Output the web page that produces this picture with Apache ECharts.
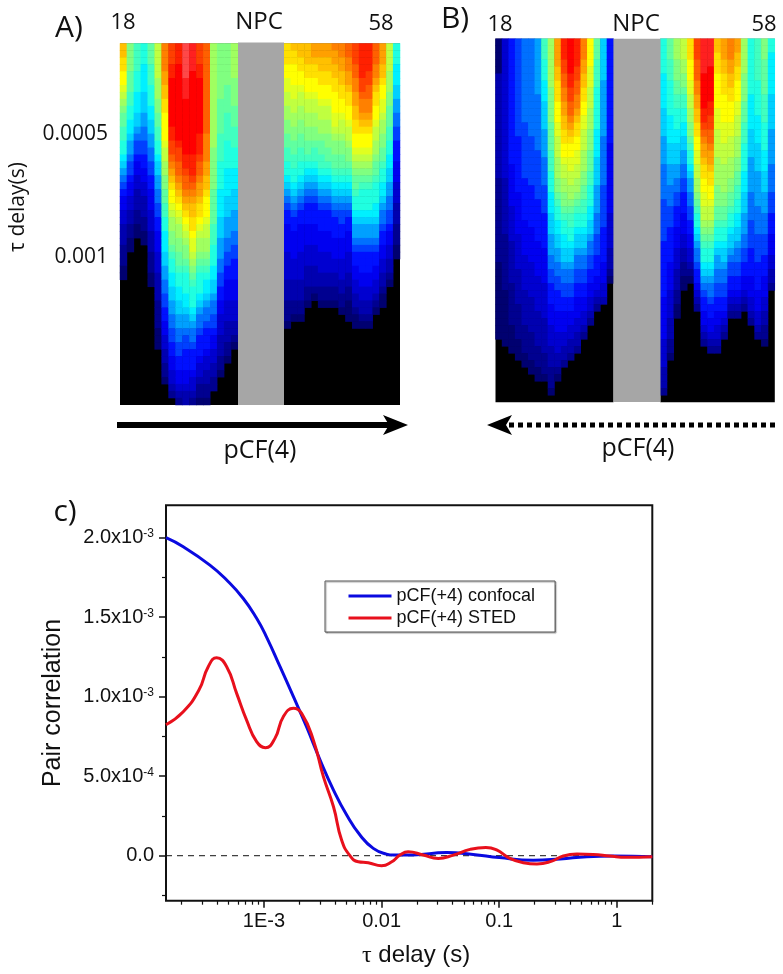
<!DOCTYPE html>
<html><head><meta charset="utf-8">
<style>html,body{margin:0;padding:0;background:#fff}#c{width:783px;height:974px}</style>
<script src="https://cdn.jsdelivr.net/npm/echarts@6/dist/echarts.min.js"></script>
</head><body><div id="c"></div>
<script>
// Heat maps: each string is one column read top to bottom. 0 = black, 1..t = colour level (base 36).
// Rows past the end of a string are black (no signal).
const panelALeft = [
"llkkjjihgfeeddccba9876554433322211","ffffeeeddccbba9987765544332211","ddddcccbbbaa9877655443332211",
"cccbbbbaaa9988776655443332211","eeedddcccbbaa9988776655544433322211","hhhhhgggffeeddccbaa9988776655544433332222111",
"nnnnmmllkkjjjjihhggffeeddccbbbaa99887766554433221","pppqqrrrrrrrqqpponmlkjjihggffedccbbaa99887766554432",
"qqqrrrrrrrrrrrqppoonmlkjihggffeedccbbaa9988776655432","tttttsssrrrrrrrrqqpoonmlkjihgffedcccbba9987766655433",
"ssssrrrrrrrrrrrrqqqponmllkkjiihgfedcccba988766654432","pppqqrrrrrrrrqqqpoonmmlkkjihggfedcccba98876665443221",
"ooooooooooooonnnnmmllkjjjihhggfedcbba988766654433221","gggggggggggggggffffffeeeeedddcccbbaa98877655443322",
"ffffffffeeeeeddddccccbbbbaaa99988776655444333221","ffffffeeeeddddccccbbbbaaa999887766555444333221",
"gggggffffeeedddcccbbbaaa99988776665554443321"];
const panelARight = [
"kkkjjiihhggffeeddccba98766555544443332221","lkkjjjiihhggffeeddccba987665555444333221","llkkjjihhggffeeddccba9876655554444333221",
"lllkkjjihhggffeedcba987666555444333221","mmlkkjjihhggffeddcba98766655544433321","mmllkkjjihhggfeeddcba98766655544433221",
"mmllkkjjihhggffeedcba98766655544433221","nmmllkkjjjiihgffeedcba9876665554433221","nnmmllkkjjihhgffeedcba987766555444332 21",
"oonnmmlkkjjihhgffedcba987665554443322111","pppoonnmmllkkjjihgfeedccba998766554433211","qqqqqpponnmlkjjihgfedcccba998766655443321",
"qqqqppoonnmlkjjihgfedcccba998766655443321","ooonnmlkkjjihhggfeedcccbba9987665544321","mmmllkjjiihggffeedccbba988766554433211",
"hhhhgggffeeeddccbbaa998877655443321","cccbbbaa99887766655544433322211"].map(s=>s.replace(/ /g,""));
const panelBLeft = [
"0000033333333333333322222222222211111111111","44444444444444444444333333332222222211111111","666666666666666666555555444443333332222221111",
"7777777777777766666666555555444443333322222111","88888888888877777777666666555554444433333222211","888888888888887777777666666555554444433333222211",
"9999999988888888777777766666655555444443333322211","dddcccbbbaaaa999988887777666665555544444333332221","gggggggfffffeeeedddcccbbbaaa99988776665554443332221",
"mmmmllkkkjjjiihhhgggffedccbbaa9988776665554443321","qqqppoonnmmllkkjjihhggffedccbbaa988776655544332","rrrrrqqppoonmlkjjiihhggfeddccbaa98877665544332",
"qqqqppoonnmlkkjjiihhggfedccbaa988776655544332","nnnmmllkkjjiihhhgggffeeddccbaa9887766554432","jjjjiiihhhgggfffeeeddcccbbaa9887766554432",
"eeeddddccccccbbbbaaaa999988877766655432","aaaaaa99999999888888877777766666555443","66666666666666655555555554444433321"];
const panelBRight = [
"cccccbbbbbaaaa9999888887777776666666655555544443332","eeedddcccccbbbbaaa9998887776666655554444333221","gggfffeeddcccbbaaa9988776665554443332211",
"hhhggffeddccbbaa99887766655544332211","kkkjjjiihhggffedccba998877665544321","pppooonnmmllkkjjiihhggfedccba9887665432",
"sssssrrrrrqqponmmlkkjjiihhgfedccba9876655432","ssssrrrrrqqppoonmmlkkjjihhgfedccba98876655432","llkkkjjjjjiiihhhhggggfffeedccba99887766554432",
"mmmllkkkjjjjiiihhhggggffeedccbaa98877665432","nnnmmllkkjjjiihhhgggffeedccbaa9877665432","mmllkkjjjiihhhgggffeeddccbbaa98877665432",
"gggggffffeeedddccccbbbaaa99988776655432","ccccccccbbbbbaaaa999998888777766665554432","ddddddcccccbbbbaaaa999998888777766665554432",
"fffeeeeeddddccccbbbaaa9998887776665554433221","ccbbbbbbaaaaa99999888877766655544332"];

// Curves: delay (s) and pair correlation
const tauConfocal = [1.47e-4,2.06e-4,3.47e-4,4.82e-4,6.67e-4,8.66e-4,1.05e-3,1.37e-3,1.78e-3,2.3e-3,3e-3,3.9e-3,5.05e-3,6.55e-3,8.5e-3,1.1e-2,1.26e-2,1.85e-2,3.57e-2,6e-2,0.1,0.195,0.329,0.556,0.93,2];
const confocal = [2.0e-3,1.943e-3,1.828e-3,1.734e-3,1.618e-3,1.493e-3,1.377e-3,1.189e-3,1.0e-3,8.11e-4,6.02e-4,4.13e-4,2.56e-4,1.3e-4,4.6e-5,1.0e-5,4e-6,5e-6,2.0e-5,8e-6,-1.2e-5,-2.8e-5,-2.0e-5,-6e-6,-2e-6,-6e-6];
const tauSted = [1.47e-4,2.06e-4,2.8e-4,3.36e-4,3.96e-4,4.82e-4,5.86e-4,7.12e-4,8.66e-4,1.03e-3,1.24e-3,1.46e-3,1.78e-3,2.09e-3,2.63e-3,3.2e-3,3.9e-3,4.57e-3,5.38e-3,6.34e-3,7.7e-3,1.0e-2,1.22e-2,1.43e-2,1.68e-2,2.26e-2,3.03e-2,4.07e-2,5.65e-2,7.7e-2,9.5e-2,0.123,0.16,0.209,0.28,0.35,0.457,0.63,0.87,1.2,2];
const sted = [8.24e-4,9.06e-4,1.042e-3,1.189e-3,1.245e-3,1.189e-3,1.021e-3,8.53e-4,7.17e-4,6.79e-4,7.38e-4,8.74e-4,9.27e-4,8.95e-4,7.27e-4,4.97e-4,3.08e-4,9.9e-5,0,-3.8e-5,-4.4e-5,-6.3e-5,-3.8e-5,4e-6,2.5e-5,4e-6,-1.7e-5,4e-6,4.0e-5,5.2e-5,3.6e-5,-1.7e-5,-4.4e-5,-5.2e-5,-3.4e-5,-2e-6,1.0e-5,8e-6,-2e-6,-1.0e-5,-6e-6];
const zeroTau = [1.47e-4,2], zeroLine = [0,0];
const xMajor = [1e-3,0.01,0.1,1], xMajorLabels = ["1E-3","0.01","0.1","1"];
const xMinor = [2e-4,3e-4,4e-4,5e-4,6e-4,7e-4,8e-4,9e-4,2e-3,3e-3,4e-3,5e-3,6e-3,7e-3,8e-3,9e-3,0.02,0.03,0.04,0.05,0.06,0.07,0.08,0.09,0.2,0.3,0.4,0.5,0.6,0.7,0.8,0.9,2];
const yMajor = [0,5e-4,1e-3,1.5e-3,2e-3];
const yMajorLabels = ["0.0","{a|5.0x10}{s|-4}","{a|1.0x10}{s|-3}","{a|1.5x10}{s|-3}","{a|2.0x10}{s|-3}"];
const yMinor = [-2.5e-4,2.5e-4,7.5e-4,1.25e-3,1.75e-3];
const seriesNames = ["pCF(+4) confocal","pCF(+4) STED"];

const jet = ['#000070','#000090','#0000b0','#0000d0','#0000f0','#0010ff','#0040ff','#0070ff','#00a0ff','#00d0ff','#00f0ff','#20ffe0','#40ffc0','#60ffa0','#80ff80','#a0ff60','#c0ff40','#e0ff20','#ffff00','#ffe000','#ffc000','#ffa000','#ff8000','#ff6000','#ff4000','#ff2000','#ff0000','#ff2020','#ff4848'];
const ROWS = 52;
const panels = [
  {cols:panelALeft,  left:120,  top:43.5, width:118,   height:361.5},
  {cols:panelARight, left:284,  top:43.5, width:116,   height:361.5},
  {cols:panelBLeft,  left:495.5,top:38.7, width:118,   height:363.6},
  {cols:panelBRight, left:660.3,top:38.7, width:114.5, height:363.6}
];
const nearest=(list,labels,v)=>{let b=0;list.forEach((t,i)=>{if(Math.abs(t-v)<Math.abs(list[b]-v))b=i;});return labels[b];};
const rowCats = Array.from({length:ROWS},(_,i)=>i);
const grids=[],xAxes=[],yAxes=[],series=[];
panels.forEach((p,i)=>{
  grids.push({left:p.left,top:p.top,width:p.width,height:p.height,show:true,backgroundColor:'#000',borderWidth:0});
  xAxes.push({type:'category',gridIndex:i,show:false,data:p.cols.map((_,k)=>k)});
  yAxes.push({type:'category',gridIndex:i,show:false,inverse:true,data:rowCats});
  const data=[];
  p.cols.forEach((s,c)=>{for(let r=0;r<s.length;r++)data.push([c,r,parseInt(s[r],36)]);});
  series.push({type:'heatmap',xAxisIndex:i,yAxisIndex:i,data,silent:true,progressive:0,animation:false,itemStyle:{borderWidth:0}});
});
const G=4;
grids.push({left:166,top:505.3,width:486.3,height:395.4,show:true,borderColor:'#111',borderWidth:2,backgroundColor:'#fff'});
const font='"Liberation Sans",Arial,sans-serif', hfont='"Open Sans","Noto Sans",sans-serif';
const xBase={type:'log',gridIndex:G,position:'bottom',min:1.47e-4,max:2,splitLine:{show:false},axisLine:{show:false,onZero:false},minorTick:{show:false}};
const yBase={type:'value',gridIndex:G,position:'left',min:-2.83e-4,max:2.204e-3,splitLine:{show:false},axisLine:{show:false,onZero:false},minorTick:{show:false}};
xAxes.push(Object.assign({},xBase,{
  axisTick:{show:true,length:7,customValues:xMajor,lineStyle:{color:'#111',width:1.5}},
  axisLabel:{show:true,customValues:xMajor,margin:11,fontFamily:font,fontSize:20,color:'#111',formatter:v=>nearest(xMajor,xMajorLabels,v)},
  name:'{t|τ} delay (s)',nameLocation:'middle',nameGap:43,
  nameTextStyle:{fontFamily:font,fontSize:24,color:'#111',padding:[0,0,0,14],rich:{t:{fontFamily:'"Liberation Serif",serif',fontSize:24,color:'#111'}}}
}));
xAxes.push(Object.assign({},xBase,{
  axisTick:{show:true,length:4,customValues:xMinor,lineStyle:{color:'#111',width:1.2}},axisLabel:{show:false}
}));
yAxes.push(Object.assign({},yBase,{
  axisTick:{show:true,length:7,customValues:yMajor,lineStyle:{color:'#111',width:1.5}},
  axisLabel:{show:true,customValues:yMajor,margin:12,fontFamily:font,fontSize:20,color:'#111',formatter:v=>nearest(yMajor,yMajorLabels,v),
    rich:{a:{fontFamily:font,fontSize:20,color:'#111'},s:{fontFamily:font,fontSize:12,color:'#111',verticalAlign:'top',padding:[0,0,8,0]}}},
  name:'Pair correlation',nameLocation:'middle',nameRotate:90,nameGap:100,nameTextStyle:{fontFamily:font,fontSize:25,color:'#111'}
}));
yAxes.push(Object.assign({},yBase,{
  axisTick:{show:true,length:4,customValues:yMinor,lineStyle:{color:'#111',width:1.2}},axisLabel:{show:false}
}));
const lineIdx={xAxisIndex:G,yAxisIndex:G};
series.push(Object.assign({type:'line',name:'zero',data:zeroTau.map((t,i)=>[t,zeroLine[i]]),symbol:'none',silent:true,lineStyle:{color:'#111',width:1,type:[6,5]}},lineIdx));
series.push(Object.assign({type:'line',name:seriesNames[0],data:tauConfocal.map((t,i)=>[t,confocal[i]]),symbol:'none',smooth:0.5,lineStyle:{color:'#0a0ae0',width:3},itemStyle:{color:'#0a0ae0'}},lineIdx));
series.push(Object.assign({type:'line',name:seriesNames[1],data:tauSted.map((t,i)=>[t,sted[i]]),symbol:'none',smooth:0.5,lineStyle:{color:'#e8101c',width:3},itemStyle:{color:'#e8101c'}},lineIdx));

const txt=(x,y,text,size,opts)=>Object.assign({type:'text',x,y,style:Object.assign({text,fontFamily:hfont,fontSize:size,fill:'#111',align:'center',verticalAlign:'middle'},(opts&&opts.style)||{})},opts&&opts.rot?{rotation:opts.rot}:{});
const graphic=[
  {type:'rect',shape:{x:238,y:42.5,width:46,height:362.5},style:{fill:'#a6a6a6'},z:5},
  {type:'rect',shape:{x:613.5,y:38.7,width:47,height:363.3},style:{fill:'#a6a6a6'},z:5},
  txt(69,28,'A)',30), txt(123,23,'18',22), txt(259,22,'NPC',24), txt(381,24,'58',22),
  txt(108,134,'0.0005',21,{style:{align:'right'}}), txt(108,257,'0.001',21,{style:{align:'right'}}),
  txt(18,207,'τ delay(s)',21,{rot:Math.PI/2}),
  txt(260,451,'pCF(4)',25),
  txt(455,19,'B)',30), txt(500,25,'18',22), txt(636,24,'NPC',24), txt(764,25,'58',22),
  txt(638,449,'pCF(4)',25),
  txt(65,512,'c)',30),
  {type:'line',shape:{x1:117,y1:425,x2:392,y2:425},style:{stroke:'#000',lineWidth:6}},
  {type:'polygon',shape:{points:[[408,425],[383,415],[389,425],[383,435]]},style:{fill:'#000'}},
  {type:'line',shape:{x1:775,y1:425,x2:505,y2:425},style:{stroke:'#000',lineWidth:5,lineDash:[5,4]}},
  {type:'polygon',shape:{points:[[487,425],[512,415],[506,425],[512,435]]},style:{fill:'#000'}}
];
const chart=echarts.init(document.getElementById('c'),null,{renderer:'canvas'});
chart.setOption({
  animation:false,backgroundColor:'#fff',
  grid:grids,xAxis:xAxes,yAxis:yAxes,series,graphic,
  visualMap:{type:'continuous',show:false,seriesIndex:[0,1,2,3],min:1,max:29,dimension:2,inRange:{color:jet},outOfRange:{color:'#000'}},
  legend:{data:seriesNames,orient:'vertical',left:325,top:581,itemWidth:43,itemHeight:10,itemGap:4,padding:[6,20,5,22],
    borderColor:'#555',borderWidth:1,backgroundColor:'#fff',
    shadowColor:'rgba(0,0,0,0.35)',shadowBlur:1,shadowOffsetX:1,shadowOffsetY:1,
    itemStyle:{opacity:0},lineStyle:{width:3},
    textStyle:{fontFamily:font,fontSize:18,color:'#111'}}
});
</script></body></html>
